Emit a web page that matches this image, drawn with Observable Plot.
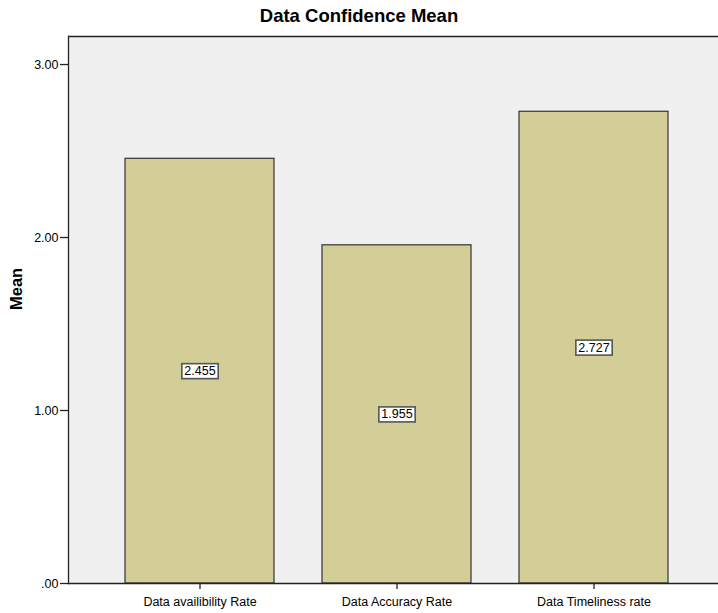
<!DOCTYPE html>
<html>
<head>
<meta charset="utf-8">
<script src="https://cdn.jsdelivr.net/npm/d3@7"></script>
<script src="https://cdn.jsdelivr.net/npm/@observablehq/plot@0.6"></script>
<style>
  html, body { margin: 0; padding: 0; background: #fff; overflow: hidden; }
  #wrap { position: relative; width: 718px; height: 613px; font-family: "Liberation Sans", Arial, sans-serif; }
  #title { position: absolute; top: 5px; left: 0; width: 718px; text-align: center; font-size: 18.5px; font-weight: bold; color: #000; line-height: normal; }
  #chart { position: absolute; top: 0; left: 0; }
</style>
</head>
<body>
<div id="wrap">
  <div id="chart"></div>
  <div id="title">Data Confidence Mean</div>
</div>
<script>
const categories = ["Data availibility Rate", "Data Accuracy Rate", "Data Timeliness rate"];
const means = [2.455, 1.955, 2.727];
const labels = ["2.455", "1.955", "2.727"];
const yTicks = [0, 1, 2, 3];
const yTickLabels = [".00", "1.00", "2.00", "3.00"];

const data = categories.map((c, i) => ({cat: c, mean: means[i], label: labels[i]}));
const yMax = 3.162;

const chart = Plot.plot({
  width: 718,
  height: 613,
  marginLeft: 68,
  marginRight: 0,
  marginTop: 36,
  marginBottom: 30,
  style: {fontFamily: "'Liberation Sans', Arial, sans-serif", fontSize: "12.5px", color: "#000", background: "transparent"},
  x: {domain: categories, range: [67, 725], paddingInner: 0.245, paddingOuter: 0.29, label: null},
  y: {domain: [0, yMax], label: null},
  marks: [
    Plot.frame({fill: "#f0f0f0", stroke: null}),
    Plot.barY(data, {x: "cat", y: "mean", fill: "#d3ce98", stroke: "#333", strokeWidth: 1.2}),
    Plot.text(data, {x: "cat", y: d => d.mean / 2, text: "label", fontSize: 12.5, fill: "#000", className: "vlabel"}),
    Plot.ruleY([0], {stroke: "#222", strokeWidth: 1.3}),
    Plot.ruleY([yMax], {stroke: "#222", strokeWidth: 1.3}),
    Plot.axisY({ticks: yTicks, tickFormat: d => yTickLabels[yTicks.indexOf(d)], tickSize: 8, tickPadding: 2, fontSize: 12.5, stroke: "#222", strokeWidth: 1.3}),
    Plot.frame({anchor: "left", stroke: "#222", strokeWidth: 1.3}),
    Plot.axisX({tickSize: 6, tickPadding: 8, fontSize: 12.5, stroke: "#222", strokeWidth: 1.3}),
    Plot.text(["Mean"], {frameAnchor: "left", dx: -52, rotate: -90, fontSize: 16.5, fontWeight: "bold", fill: "#000"})
  ]
});
document.getElementById("chart").appendChild(chart);

// bordered boxes behind the value labels
chart.querySelectorAll(".vlabel text").forEach(t => {
  const b = t.getBBox();
  const r = document.createElementNS("http://www.w3.org/2000/svg", "rect");
  r.setAttribute("x", b.x - 2.5);
  r.setAttribute("y", b.y - 0.5);
  r.setAttribute("width", b.width + 5);
  r.setAttribute("height", b.height + 1);
  r.setAttribute("fill", "#fff");
  r.setAttribute("stroke", "#555");
  r.setAttribute("stroke-width", "1.6");
  const tr = t.getAttribute("transform");
  if (tr) r.setAttribute("transform", tr);
  t.parentNode.insertBefore(r, t);
});
</script>
</body>
</html>
